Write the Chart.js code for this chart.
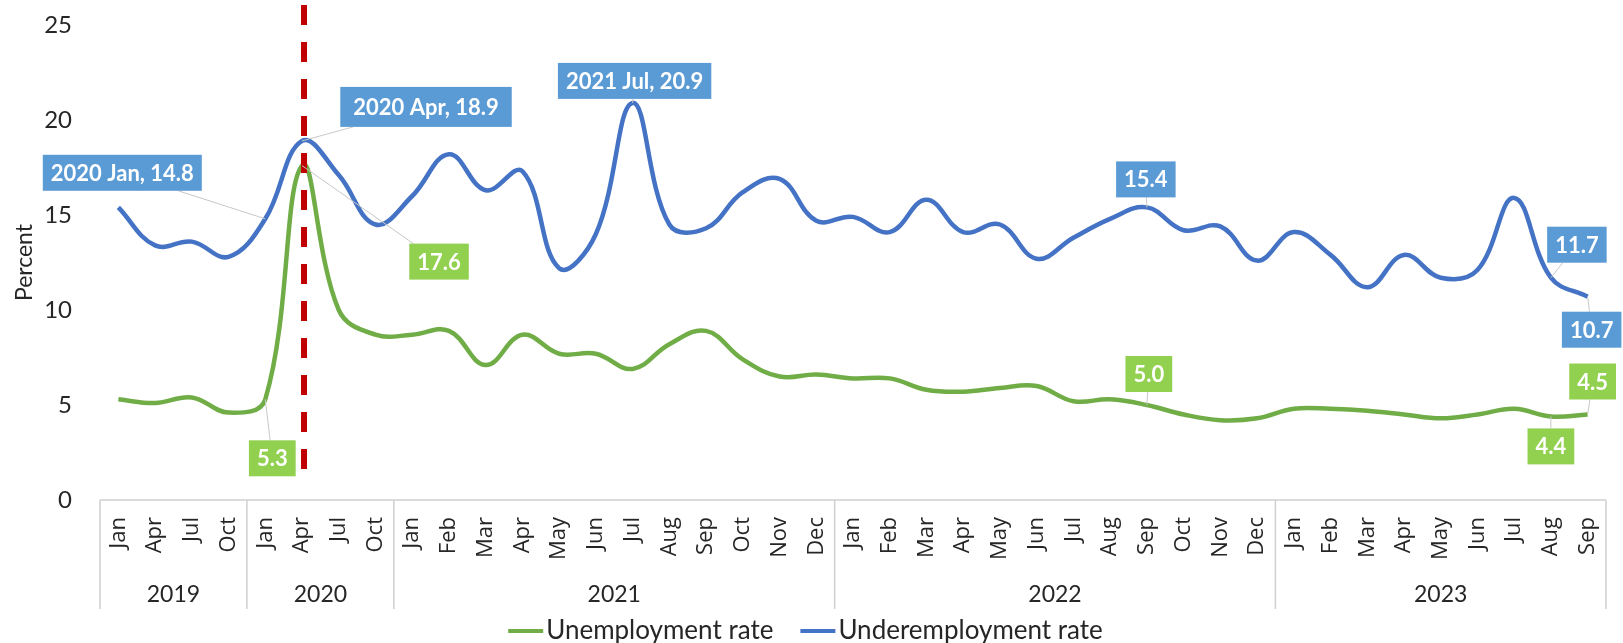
<!DOCTYPE html>
<html>
<head>
<meta charset="utf-8">
<title>Unemployment and underemployment rate</title>
<script src="https://cdn.jsdelivr.net/npm/chart.js@4.4.1/dist/chart.umd.min.js"></script>
<style>
  html, body { margin: 0; padding: 0; background: #fff; }
</style>
</head>
<body>
<canvas id="rates" width="1623" height="643"></canvas>
<script>
// Category axis: each year and the months sampled in it
const years = ['2019', '2020', '2021', '2022', '2023'];
const monthsByYear = [
  ['Jan', 'Apr', 'Jul', 'Oct'],
  ['Jan', 'Apr', 'Jul', 'Oct'],
  ['Jan', 'Feb', 'Mar', 'Apr', 'May', 'Jun', 'Jul', 'Aug', 'Sep', 'Oct', 'Nov', 'Dec'],
  ['Jan', 'Feb', 'Mar', 'Apr', 'May', 'Jun', 'Jul', 'Aug', 'Sep', 'Oct', 'Nov', 'Dec'],
  ['Jan', 'Feb', 'Mar', 'Apr', 'May', 'Jun', 'Jul', 'Aug', 'Sep']
];

// Percent
const unemployment = [
  5.3, 5.1, 5.4, 4.6,
  5.3, 17.6, 10.0, 8.7,
  8.7, 8.9, 7.1, 8.7, 7.7, 7.7, 6.9, 8.2, 8.9, 7.4, 6.5, 6.6,
  6.4, 6.4, 5.8, 5.7, 5.9, 6.0, 5.2, 5.3, 5.0, 4.5, 4.2, 4.3,
  4.8, 4.8, 4.7, 4.5, 4.3, 4.5, 4.8, 4.4, 4.5
];
const underemployment = [
  15.4, 13.4, 13.6, 12.8,
  14.8, 18.9, 17.1, 14.5,
  16.0, 18.2, 16.3, 17.3, 12.2, 14.0, 20.9, 14.5, 14.3, 16.2, 16.9, 14.7,
  14.9, 14.1, 15.8, 14.1, 14.5, 12.7, 13.8, 14.8, 15.4, 14.2, 14.4, 12.6,
  14.1, 12.9, 11.2, 12.9, 11.7, 12.1, 15.9, 11.7, 10.7
];
const yTicks = [0, 5, 10, 15, 20, 25];

// flatten to one label per point, remembering the year of each
const monthLabels = [];
const yearOf = [];
monthsByYear.forEach((months, i) => {
  months.forEach(m => { monthLabels.push(m); yearOf.push(years[i]); });
});

const markerIndex = 5; // 2020 Apr

// value boxes: which series/point, and where the box sits relative to it
const callouts = [
  { series: 1, index: 4, withDate: true, dx: -143, dy: -46 },
  { series: 1, index: 5, withDate: true, dx: 124, dy: -34, h: 40, pad: 26 },
  { series: 1, index: 14, withDate: true, dx: 2, dy: -22 },
  { series: 1, index: 28, dx: -1, dy: -28 },
  { series: 1, index: 39, dx: 26, dy: -33 },
  { series: 1, index: 40, dx: 4, dy: 33 },
  { series: 0, index: 4, dx: 7, dy: 59 },
  { series: 0, index: 5, dx: 137, dy: 96 },
  { series: 0, index: 28, dx: 2, dy: -31 },
  { series: 0, index: 39, dx: 0, dy: 30 },
  { series: 0, index: 40, dx: 5, dy: -33 }
];

const labelFills = ['#92D050', '#5B9BD5'];
const textFont = 'Lato, "Open Sans", sans-serif';

// year row, group dividers and axis line under the plot
const groupAxis = {
  id: 'groupAxis',
  afterDraw(chart) {
    const { ctx, chartArea } = chart;
    const x = chart.scales.x;
    const step = x.getPixelForValue(1) - x.getPixelForValue(0);
    const base = chartArea.bottom;
    const rowEnd = base + 109;
    ctx.save();
    ctx.strokeStyle = '#D0D0D0';
    ctx.lineWidth = 1.5;
    ctx.beginPath();
    ctx.moveTo(chartArea.left, base);
    ctx.lineTo(chartArea.right, base);
    let start = 0;
    const edges = [chartArea.left];
    monthsByYear.forEach(months => {
      start += months.length;
      edges.push(x.getPixelForValue(start - 1) + step / 2);
    });
    edges.forEach(ex => {
      ctx.moveTo(ex, base);
      ctx.lineTo(ex, rowEnd);
    });
    ctx.stroke();

    ctx.fillStyle = '#262626';
    ctx.font = '23px ' + textFont;
    ctx.textAlign = 'center';
    ctx.textBaseline = 'middle';
    years.forEach((yr, i) => {
      ctx.fillText(yr, (edges[i] + edges[i + 1]) / 2, base + 95);
    });
    ctx.restore();
  }
};

// dashed marker at the start of the pandemic
const marker = {
  id: 'marker',
  afterDatasetsDraw(chart) {
    const { ctx } = chart;
    const px = chart.scales.x.getPixelForValue(markerIndex) + 2;
    ctx.save();
    ctx.strokeStyle = '#C00000';
    ctx.lineWidth = 6;
    ctx.setLineDash([20, 17]);
    ctx.beginPath();
    ctx.moveTo(px, 5);
    ctx.lineTo(px, chart.scales.y.getPixelForValue(1.5));
    ctx.stroke();
    ctx.restore();
  }
};

// boxed value labels with leader lines
const valueBoxes = {
  id: 'valueBoxes',
  afterDraw(chart) {
    const { ctx } = chart;
    const x = chart.scales.x, y = chart.scales.y;
    ctx.save();
    ctx.font = 'bold 22px ' + textFont;
    callouts.forEach(c => {
      const v = chart.data.datasets[c.series].data[c.index];
      const px = x.getPixelForValue(c.index);
      const py = y.getPixelForValue(v);
      const text = c.withDate
        ? `${yearOf[c.index]} ${monthLabels[c.index]}, ${v.toFixed(1)}`
        : v.toFixed(1);
      const w = ctx.measureText(text).width + (c.pad || 16);
      const h = c.h || 36;
      const bx = px + c.dx, by = py + c.dy;

      const ddx = px - bx, ddy = py - by;
      const t = Math.min(
        ddx ? (w / 2) / Math.abs(ddx) : Infinity,
        ddy ? (h / 2) / Math.abs(ddy) : Infinity
      );
      if (t < 1) {
        ctx.strokeStyle = '#C8C8C8';
        ctx.lineWidth = 1;
        ctx.beginPath();
        ctx.moveTo(bx + ddx * t, by + ddy * t);
        ctx.lineTo(px, py);
        ctx.stroke();
      }

      ctx.fillStyle = labelFills[c.series];
      ctx.fillRect(bx - w / 2, by - h / 2, w, h);
      ctx.fillStyle = '#fff';
      ctx.textAlign = 'center';
      ctx.textBaseline = 'middle';
      ctx.fillText(text, bx, by + 1);
    });
    ctx.restore();
  }
};

// legend row at the bottom
const lineLegend = {
  id: 'lineLegend',
  afterDraw(chart) {
    const { ctx, width, height } = chart;
    const sample = 35, gap = 3, between = 27;
    ctx.save();
    ctx.font = '26px ' + textFont;
    const items = chart.data.datasets.map(ds => ({
      text: ds.label, color: ds.borderColor, w: ctx.measureText(ds.label).width
    }));
    const total = items.reduce((s, it) => s + sample + gap + it.w, 0) + between * (items.length - 1);
    let cx = (width - total) / 2 - 6;
    const cy = height - 12;
    items.forEach(it => {
      ctx.strokeStyle = it.color;
      ctx.lineWidth = 4;
      ctx.beginPath();
      ctx.moveTo(cx, cy);
      ctx.lineTo(cx + sample, cy);
      ctx.stroke();
      cx += sample + gap;
      ctx.fillStyle = '#262626';
      ctx.textAlign = 'left';
      ctx.textBaseline = 'middle';
      ctx.fillText(it.text, cx, cy);
      cx += it.w + between;
    });
    ctx.restore();
  }
};

new Chart(document.getElementById('rates'), {
  type: 'line',
  data: {
    labels: monthLabels,
    datasets: [
      {
        label: 'Unemployment rate',
        data: unemployment,
        borderColor: '#70AD47',
        backgroundColor: '#70AD47',
        borderWidth: 4.5,
        pointRadius: 0,
        tension: 0.4
      },
      {
        label: 'Underemployment rate',
        data: underemployment,
        borderColor: '#4472C4',
        backgroundColor: '#4472C4',
        borderWidth: 4.5,
        pointRadius: 0,
        tension: 0.4
      }
    ]
  },
  options: {
    responsive: false,
    animation: false,
    devicePixelRatio: 1,
    layout: { padding: { left: 0, right: 17, top: 25, bottom: 34 } },
    plugins: {
      legend: { display: false },
      tooltip: { enabled: false }
    },
    scales: {
      x: {
        offset: true,
        grid: { display: false, drawTicks: false },
        border: { display: false },
        ticks: {
          autoSkip: false,
          minRotation: 90,
          maxRotation: 90,
          padding: 17,
          color: '#262626',
          font: { family: '"Open Sans", sans-serif', size: 22 }
        },
        afterFit(scale) {
          scale.height = 109;
          scale.paddingLeft = 0;
          scale.paddingRight = 0;
        }
      },
      y: {
        min: 0,
        max: 25,
        afterBuildTicks(scale) { scale.ticks = yTicks.map(v => ({ value: v })); },
        grid: { display: false, drawTicks: false },
        border: { display: false },
        ticks: {
          padding: 28,
          color: '#262626',
          font: { family: textFont, size: 24 }
        },
        title: {
          display: true,
          text: 'Percent',
          color: '#262626',
          padding: { top: 11, bottom: 0 },
          font: { family: textFont, size: 23 }
        },
        afterFit(scale) {
          scale.width = 100;
          // tick padding should only push labels sideways, not shrink the plot
          scale.paddingTop = 0;
          scale.paddingBottom = 0;
        }
      }
    }
  },
  plugins: [marker, groupAxis, valueBoxes, lineLegend]
});
</script>
</body>
</html>
